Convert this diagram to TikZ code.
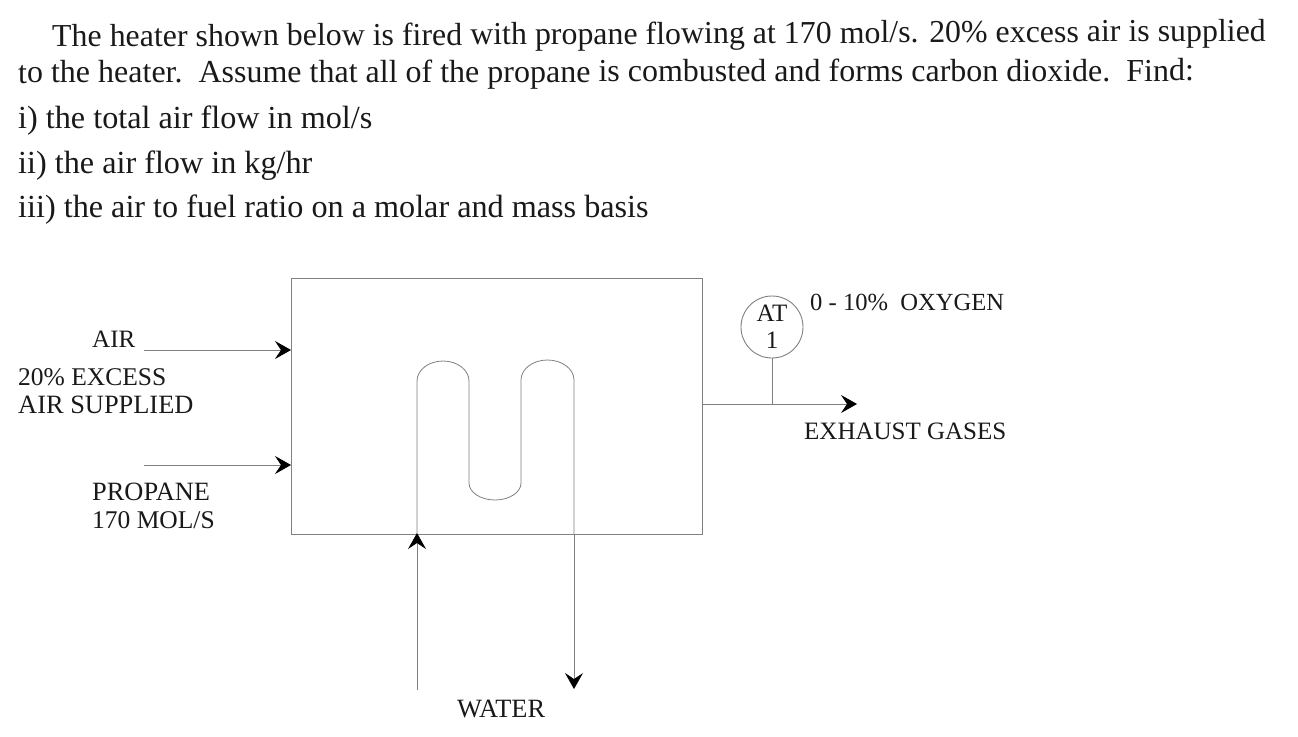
\documentclass[tikz,border=0pt]{standalone}
\usepackage{fontspec}
\setmainfont{Liberation Serif}
\usetikzlibrary{arrows.meta}
\tikzset{
 lbl/.style={inner sep=0pt,anchor=base west,font=\fontsize{25.5pt}{25.5pt}\selectfont,text=black!90},
 lblw/.style={lbl,font=\fontsize{26.4pt}{26.4pt}\selectfont},
 lbln/.style={lbl,font=\fontsize{25pt}{25pt}\selectfont},
 head/.style={inner sep=0pt,anchor=base west,font=\fontsize{32pt}{32pt}\selectfont,text=black!90},
 headw/.style={head,font=\fontsize{32.2pt}{32.2pt}\selectfont},
 pipe/.style={draw=black!50,line width=0.8pt},
 flow/.style={pipe,-{Stealth[length=16pt,width=18pt,inset=6pt,black]}},
}
\begin{document}
\begin{tikzpicture}[x=1pt,y=-1pt]
\useasboundingbox (0,0) rectangle (1298,736);
\node[head,rotate=0.28,font=\fontsize{31.9pt}{31.9pt}\selectfont] (t1) at (52,47) {The heater shown below is fired with propane flowing at 170 mol/s. 20\% excess air is supplied};
\node[head,rotate=0.1] (t2) at (18,83) {to the heater.\ \ Assume that all of the propane is combusted and forms carbon dioxide.\ \ Find:};
\node[headw] (t3) at (18,128) {i) the total air flow in mol/s};
\node[headw] (t4) at (18,173) {ii) the air flow in kg/hr};
\node[headw] (t5) at (18,217) {iii) the air to fuel ratio on a molar and mass basis};
\node[draw=black!50,line width=0.8pt,minimum width=411pt,minimum height=256pt,inner sep=0pt,anchor=north west] (box) at (291,278) {};
\node[lbln] (air) at (92,347) {AIR};
\node[lbl] (ex1) at (18,385) {20\% EXCESS};
\node[lblw] (ex2) at (18,413) {AIR SUPPLIED};
\node[lblw] (pr1) at (92,500) {PROPANE};
\node[lbl] (pr2) at (92,528) {170 MOL/S};
\node[lblw] (wat) at (457,717) {WATER};
\node[lbln] (exh) at (804,439) {EXHAUST GASES};
\node[lbl,font=\fontsize{24.6pt}{24.6pt}\selectfont] (oxy) at (810,310) {0 - 10\%\ \ OXYGEN};
\node[circle,draw=black!50,line width=0.9pt,minimum size=62pt,inner sep=0pt,align=center,font=\fontsize{25pt}{27pt}\selectfont,text=black!90] (at) at (772,327) {AT\\1};
\coordinate (a0) at (144,350); \coordinate (a1) at (291,350);
\coordinate (p0) at (144,465); \coordinate (p1) at (291,465);
\draw[flow] (a0) -- (a1);
\draw[flow] (p0) -- (p1);
\coordinate (w0) at (417,690); \coordinate (w1) at (417,533);
\draw[flow] (w0) -- (w1);
\coordinate (o0) at (574,534); \coordinate (o1) at (574,689);
\draw[flow] (o0) -- (o1);
\coordinate (e0) at (702,404); \coordinate (e1) at (857,404); \coordinate (e2) at (772,404);
\draw[flow] (e0) -- (e1);
\draw[pipe] (at) -- (e2);
\draw[pipe] (417,534) -- (417,381) arc[start angle=180,end angle=360,x radius=26,y radius=20] -- (469,483) arc[start angle=180,end angle=0,x radius=26,y radius=17] -- (521,380) arc[start angle=180,end angle=360,x radius=26.5,y radius=20] -- (574,534);
\end{tikzpicture}
\end{document}
